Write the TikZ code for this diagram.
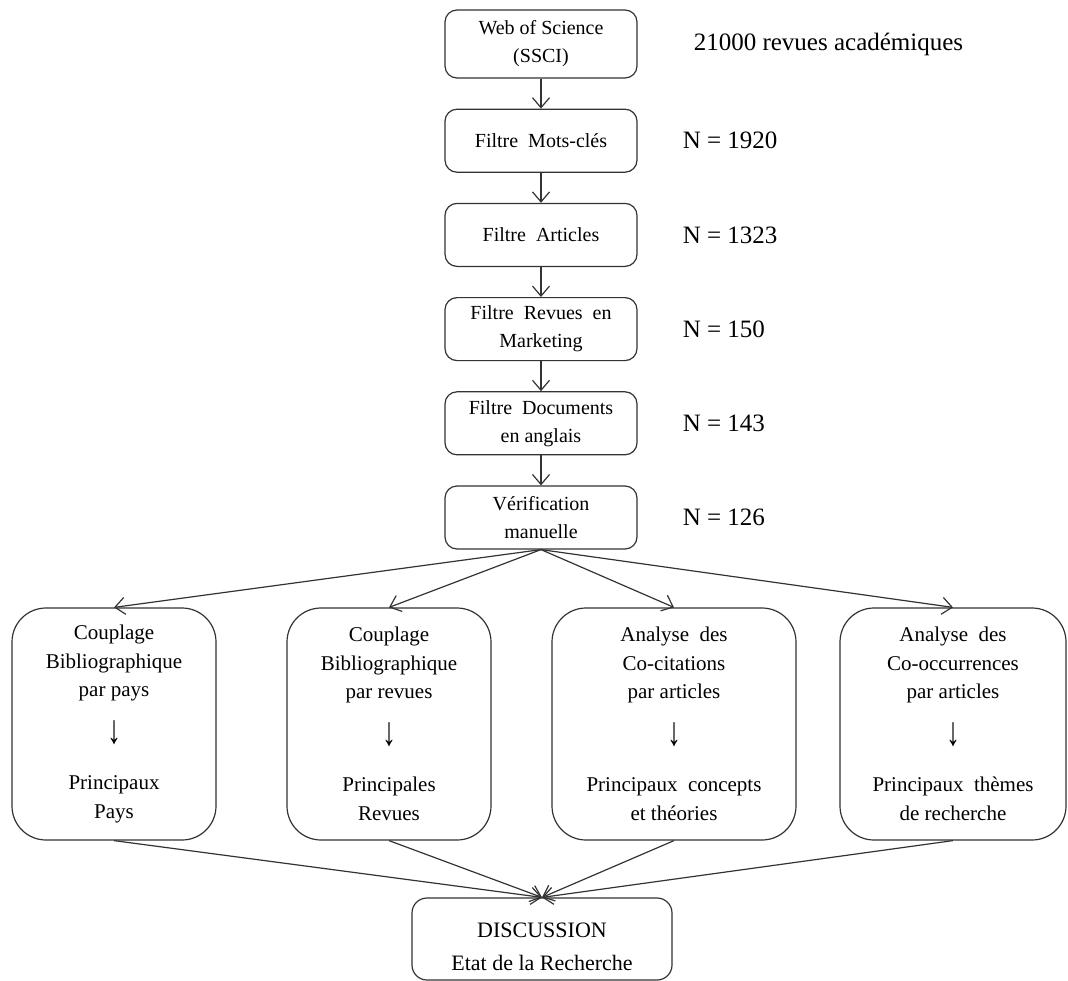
\documentclass[tikz,border=0pt]{standalone}
\usepackage{fontspec}
\setmainfont{Liberation Serif}
\usetikzlibrary{arrows.meta, positioning}

\newcommand{\downstep}{\\[18pt]\scalebox{1}[1.45]{\fontsize{28}{28}\selectfont ↓}\\[18pt]}

\begin{document}
\begin{tikzpicture}
[x=1pt, y=-1pt,
filt/.style={rectangle, draw=black!80, line width=1.2pt, rounded corners=12pt, minimum width=192pt, minimum height=63pt, align=center, font=\fontsize{20}{28}\selectfont},
res/.style={rectangle, draw=black!80, line width=1.2pt, rounded corners=34pt, minimum height=232pt, align=center, font=\fontsize{21}{28.5}\selectfont},
num/.style={inner sep=0pt, font=\fontsize{25}{30}\selectfont},
arr/.style={draw=black!80, line width=1.2pt, -{Straight Barb[length=10pt, width=17pt]}}]

\useasboundingbox (0,0) rectangle (1068,980);

% selection chain
\node (wos) [filt, minimum height=68pt] at (541,44) {Web of Science\\(SSCI)};
\node (motscles) [filt, below=30pt of wos] {Filtre~ Mots-clés};
\node (articles) [filt, below=30pt of motscles] {Filtre~ Articles};
\node (revues) [filt, below=30pt of articles] {Filtre~ Revues~ en\\Marketing};
\node (docs) [filt, below=30pt of revues] {Filtre~ Documents\\en anglais};
\node (verif) [filt, below=30pt of docs] {Vérification\\manuelle};

% counts
\node (n0) [num, right=56pt of wos] {21000 revues académiques};
\node (n1) [num, right=45pt of motscles] {N = 1920};
\node (n2) [num, right=45pt of articles] {N = 1323};
\node (n3) [num, right=45pt of revues] {N = 150};
\node (n4) [num, right=45pt of docs] {N = 143};
\node (n5) [num, right=45pt of verif] {N = 126};

% analyses
\node (pays) [res, minimum width=204pt] at (114,724) {Couplage\\Bibliographique\\par pays\downstep Principaux\\Pays};
\node (journals) [res, minimum width=204pt] at (389,724) {Couplage\\Bibliographique\\par revues\downstep Principales\\Revues};
\node (cocit) [res, minimum width=244pt] at (674,724) {Analyse~ des\\Co-citations\\par articles\downstep Principaux~ concepts\\et théories};
\node (cooc) [res, minimum width=226pt] at (953,724) {Analyse~ des\\Co-occurrences\\par articles\downstep Principaux~ thèmes\\de recherche};

\node (disc) [filt, minimum width=260pt, minimum height=82pt, rounded corners=15pt, font=\fontsize{22}{33}\selectfont] at (542,939) {\rule{0pt}{30pt}DISCUSSION\\Etat de la Recherche};

% links
\foreach \a/\b in {wos/motscles, motscles/articles, articles/revues, revues/docs, docs/verif}
  \draw[arr] (\a) -- (\b);
\foreach \b in {pays, journals, cocit, cooc}
  \draw[arr] (verif.south) -- (\b.north);
\foreach \a in {pays, journals, cocit, cooc}
  \draw[arr] (\a.south) -- (disc.north);
\end{tikzpicture}
\end{document}
